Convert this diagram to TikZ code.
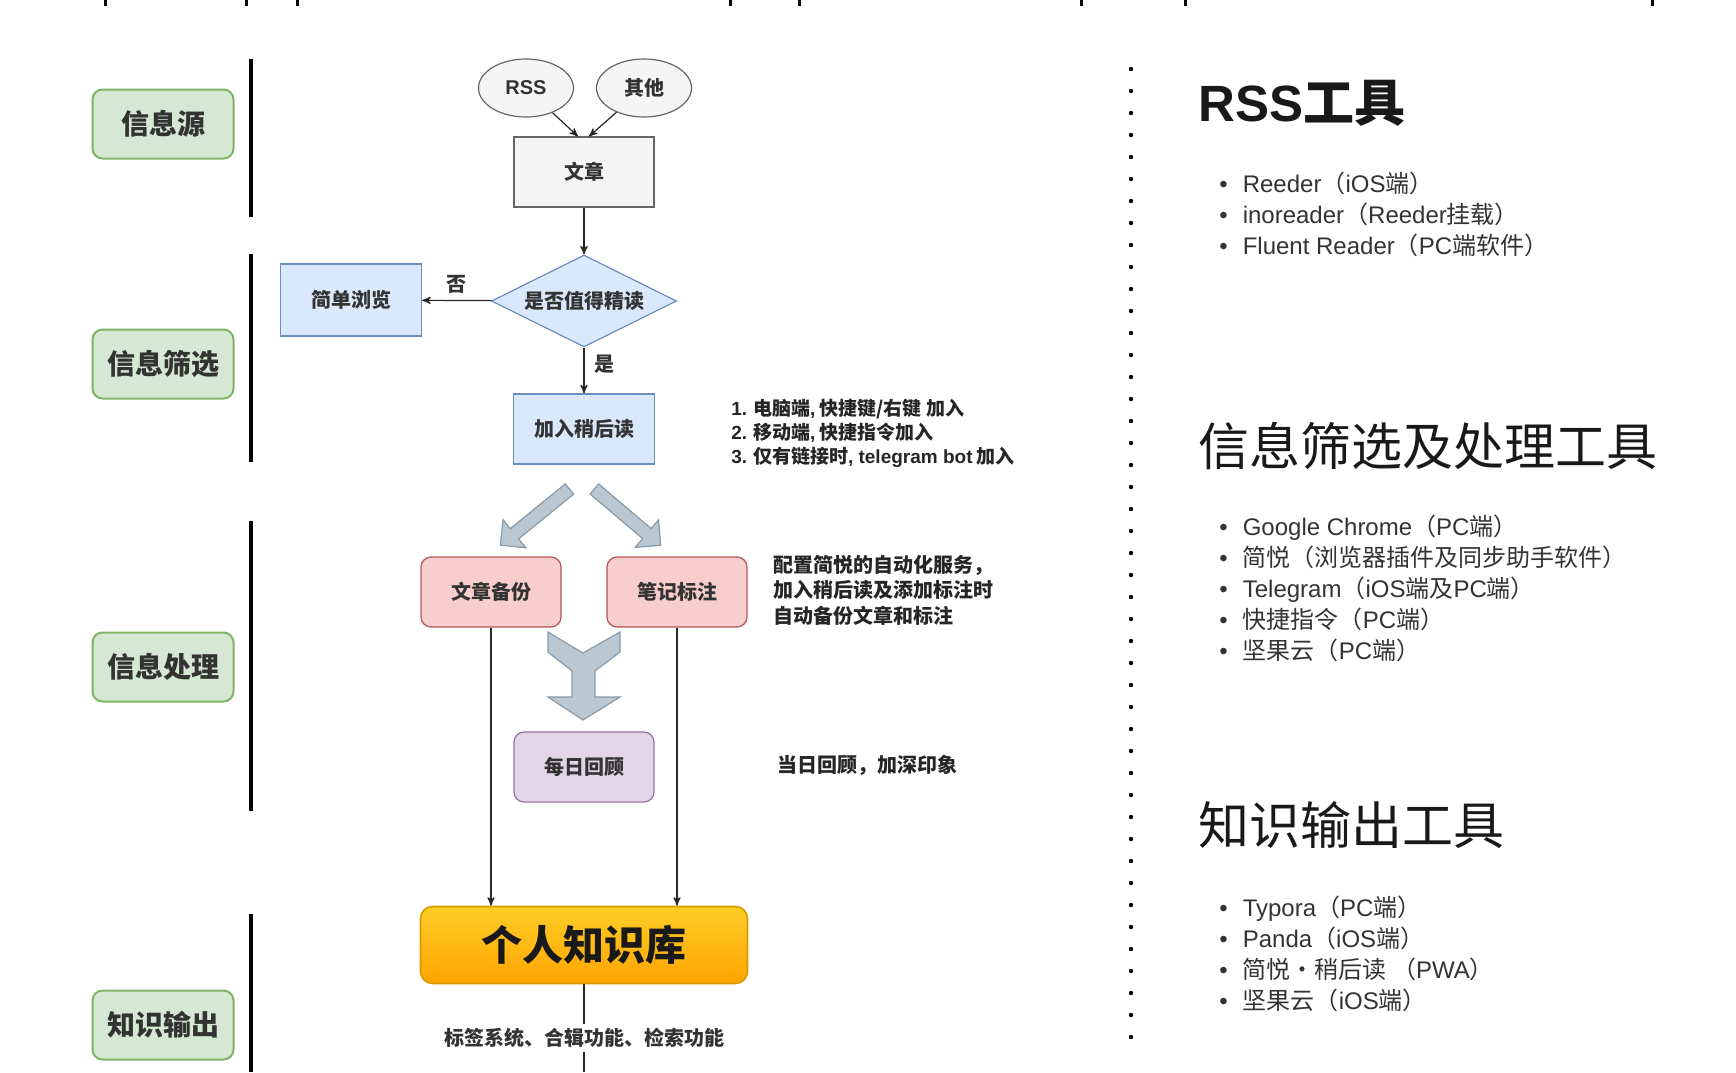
\documentclass[tikz,border=0pt]{standalone}
\usepackage{fontspec}
\setmainfont{Liberation Sans}
\newfontfamily\cjk{Noto Sans CJK SC}
\usetikzlibrary{arrows,positioning,shapes.geometric,shapes.arrows}

\newcommand\zh[1]{{\cjk #1}}
\newcommand\li{\textbullet\hspace{7.5pt}}

\definecolor{stagefill}{HTML}{D5E8D4}
\definecolor{stageline}{HTML}{82B366}
\definecolor{bluefill}{HTML}{DAE8FC}
\definecolor{blueline}{HTML}{6C8EBF}
\definecolor{redfill}{HTML}{F8CECC}
\definecolor{redline}{HTML}{B85450}
\definecolor{purplefill}{HTML}{E1D5E7}
\definecolor{purpleline}{HTML}{9673A6}
\definecolor{greyfill}{HTML}{F5F5F5}
\definecolor{greyline}{HTML}{666666}
\definecolor{fatfill}{HTML}{BAC8D3}
\definecolor{fatline}{HTML}{8A9BA6}
\definecolor{kbtop}{HTML}{FFCD28}
\definecolor{kbbottom}{HTML}{FFA500}
\definecolor{kbline}{HTML}{D79B00}
\definecolor{ink}{HTML}{333333}

\begin{document}
\begin{tikzpicture}[x=0.5pt,y=-0.5pt,>=stealth',
    stage/.style={draw=stageline,fill=stagefill,rounded corners=5pt,line width=1pt,minimum width=70.5pt,minimum height=34.5pt,inner sep=0pt,text=ink,font=\cjk\bfseries\fontsize{14}{16}\selectfont},
    bar/.style={line width=2pt,black},
    src/.style={ellipse,draw=greyline,fill=greyfill,line width=0.6pt,minimum width=47.5pt,minimum height=29pt,inner sep=0pt,text=ink,font=\bfseries\fontsize{10}{12}\selectfont},
    box/.style={rectangle,line width=0.6pt,minimum width=70pt,minimum height=35pt,inner sep=0pt,text=ink,font=\cjk\bfseries\fontsize{10}{12}\selectfont},
    greybox/.style={box,draw=greyline,fill=greyfill},
    bluebox/.style={box,draw=blueline,fill=bluefill},
    redbox/.style={box,rounded corners=5pt,draw=redline,fill=redfill},
    purplebox/.style={box,rounded corners=5pt,draw=purpleline,fill=purplefill},
    decision/.style={diamond,shape aspect=2,draw=blueline,fill=bluefill,line width=0.6pt,minimum width=92.5pt,minimum height=46pt,inner sep=0pt,text=ink,font=\cjk\bfseries\fontsize{10}{12}\selectfont},
    link/.style={->,line width=0.6pt,draw=black!85},
    tag/.style={box,minimum width=0pt,minimum height=0pt,draw=none},
    fatarrow/.style={single arrow,draw=fatline,fill=fatfill,line width=0.6pt,inner sep=3pt,single arrow head extend=5.75pt,single arrow tip angle=90},
    note/.style={align=left,inner sep=0pt,anchor=west,text=black!85,font=\cjk\bfseries\fontsize{10}{12.75}\selectfont},
    heading/.style={anchor=west,inner sep=0pt,text=black!90,font=\fontsize{25.5}{30}\selectfont},
    tools/.style={align=left,anchor=west,inner sep=0pt,text=ink,font=\fontsize{12}{15.5}\selectfont}]

    \fill[white] (0,0) rectangle (1736,1072);
    \useasboundingbox (0,0) rectangle (1736,1072);

    % cut-off marks along the top edge
    \foreach \tx in {105,246,297,730,799,1081,1185,1652}
        \draw[line width=1.5pt] (\tx,0) -- (\tx,6);

    % stages
    \node[stage] (s-source) at (163,124)  {信息源};
    \node[stage] (s-filter) at (163,364)  {信息筛选};
    \node[stage] (s-work)   at (163,667)  {信息处理};
    \node[stage] (s-output) at (163,1025) {知识输出};

    \draw[bar] (251,59)  -- (251,217);
    \draw[bar] (251,254) -- (251,462);
    \draw[bar] (251,521) -- (251,811);
    \draw[bar] (251,914) -- (251,1072);

    % flow
    \node[src] (rss)   at (526,88) {RSS};
    \node[src] (other) at (644,88) {\zh{其他}};
    \node[greybox] (article) at (584,172) {文章};
    \node[decision] (worth) at (584,301) {是否值得精读};
    \node[bluebox,minimum width=70.5pt,minimum height=36pt] (skim) at (351,300) {简单浏览};
    \node[bluebox,minimum width=70.5pt] (later) at (584,429) {加入稍后读};

    \path
      (rss)     edge [link] (article.north-|578,0)
      (other)   edge [link] (article.north-|589,0)
      (article) edge [link] (worth)
      (worth)   edge [link] node [tag,above=3pt] {否} (skim)
                edge [link] node [tag,right=5pt,yshift=3pt] {是} (later);

    \node[note,font=\cjk\bfseries\fontsize{9.5}{12}\selectfont] (howto) at (731,433)
        {{\rmfamily 1.} 电脑端{\rmfamily\bfseries ,} 快捷键/右键 加入\\
         {\rmfamily 2.} 移动端{\rmfamily\bfseries ,} 快捷指令加入\\
         {\rmfamily 3.} 仅有链接时{\rmfamily\bfseries , telegram bot} 加入};

    \node[fatarrow,minimum height=44.5pt,rotate=219.1] (split-l) at (537.5,515) {};
    \node[fatarrow,minimum height=43.5pt,rotate=-40.3] (split-r) at (625,515) {};

    \node[redbox] (backup) at (491,592) {文章备份};
    \node[redbox] (mark)   at (677,592) {笔记标注};

    \node[note] (auto) at (773,590) {配置简悦的自动化服务，\\加入稍后读及添加标注时\\自动备份文章和标注};

    \filldraw[fill=fatfill,draw=fatline,line width=0.6pt]
        (548,632) -- (583,653) -- (620,632) -- (620,652) -- (595,671) -- (595,697)
        -- (620,697) -- (583,720) -- (548,697) -- (572,697) -- (572,671) -- (548,652) -- cycle;

    \node[purplebox] (review) at (584,767) {每日回顾};
    \node[note] (review-note) at (777,765) {当日回顾，加深印象};

    \node[box,rounded corners=6pt,draw=kbline,line width=0.8pt,top color=kbtop,bottom color=kbbottom,
          minimum width=163.5pt,minimum height=38.5pt,text=black!90,font=\cjk\bfseries\fontsize{20.5}{24}\selectfont]
          (kb) at (584,945) {个人知识库};

    \draw[link] (backup) -- (backup|-kb.north);
    \draw[link] (mark)   -- (mark|-kb.north);

    \coordinate (kb-end) at (584,1072);
    \draw[line width=0.6pt,black!85] (kb) -- (kb-end);
    \node[box,fill=white,minimum width=0pt,minimum height=0pt,inner sep=2pt] (kb-note) at (584,1038) {标签系统、合辑功能、检索功能};

    % divider
    \draw[line width=2.2pt,line cap=round,dash pattern=on 0pt off 11pt] (1131,69) -- (1131,1057);

    % tool lists
    \node[heading] (h-rss) at (1198,103) {\bfseries RSS\zh{工具}};
    \node[tools] (l-rss) at (1219,214)
        {\li Reeder\zh{（}iOS\zh{端）}\\
         \li inoreader\zh{（}Reeder\zh{挂载）}\\
         \li Fluent Reader\zh{（}PC\zh{端软件）}};

    \node[heading] (h-filter) at (1198,446) {\zh{信息筛选及处理工具}};
    \node[tools] (l-filter) at (1219,588.5)
        {\li Google Chrome\zh{（}PC\zh{端）}\\
         \li \zh{简悦（浏览器插件及同步助手软件）}\\
         \li Telegram\zh{（}iOS\zh{端及}PC\zh{端）}\\
         \li \zh{快捷指令（}PC\zh{端）}\\
         \li \zh{坚果云（}PC\zh{端）}};

    \node[heading] (h-out) at (1198,825) {\zh{知识输出工具}};
    \node[tools] (l-out) at (1219,953.5)
        {\li Typora\zh{（}PC\zh{端）}\\
         \li Panda\zh{（}iOS\zh{端）}\\
         \li \zh{简悦·稍后读 （}PWA\zh{）}\\
         \li \zh{坚果云（}iOS\zh{端）}};

\end{tikzpicture}
\end{document}
